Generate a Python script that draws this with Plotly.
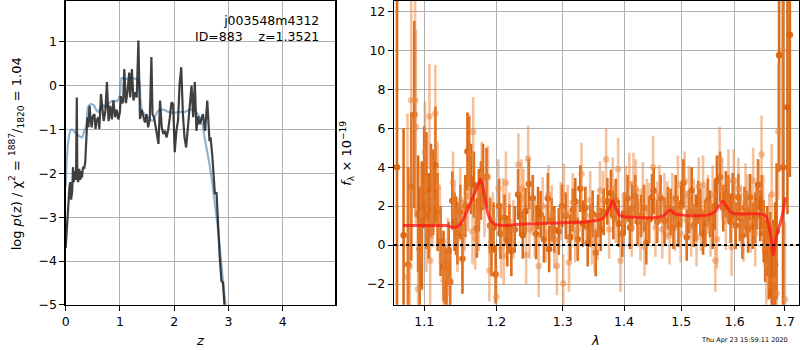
import plotly.graph_objects as go

# ---------------- left panel: redshift probability ----------------
Z_DARK = [0.00, 0.01, 0.03, 0.055, 0.07, 0.086, 0.10, 0.12, 0.135, 0.15,
          0.17, 0.19, 0.205, 0.215, 0.23, 0.25, 0.27, 0.29, 0.30, 0.32,
          0.34, 0.36, 0.38, 0.40, 0.42, 0.44, 0.46, 0.48, 0.50, 0.53,
          0.55, 0.57, 0.60, 0.62, 0.65, 0.68, 0.70, 0.73, 0.76, 0.79,
          0.82, 0.85, 0.88, 0.91, 0.94, 0.97, 1.00, 1.015, 1.04, 1.06,
          1.08, 1.11, 1.14, 1.17, 1.19, 1.22, 1.25, 1.28, 1.31, 1.34,
          1.37, 1.40, 1.42, 1.44, 1.46, 1.49, 1.52, 1.55, 1.58, 1.60,
          1.62, 1.64, 1.67, 1.71, 1.74, 1.77, 1.80, 1.83, 1.86, 1.89,
          1.92, 1.95, 1.98, 2.01, 2.04, 2.07, 2.10, 2.13, 2.16, 2.19,
          2.22, 2.25, 2.28, 2.32, 2.35, 2.38, 2.41, 2.44, 2.47, 2.50,
          2.53, 2.57, 2.61, 2.65, 2.67, 2.70, 2.72, 2.75, 2.78, 2.81,
          2.84, 2.87, 2.90, 2.93]
LOGP_DARK = [-3.7, -3.5, -3.0, -2.7, -2.3, -2.2, -2.6, -2.4, -1.86, -2.2,
             -1.95, -2.15, -0.27, -2.1, -2.2, -1.9, -2.15, -1.95, -2.1, -1.85,
             -1.9, -1.75, -1.2, -0.72, -0.95, -0.46, -0.77, -0.95, -0.7, -0.65,
             -0.99, -0.8, -0.72, -0.99, -0.19, -0.58, -0.81, -0.6, 0.08, -0.81,
             -0.46, -0.77, -0.34, -0.72, -0.55, -0.77, -0.6, -0.24, -0.4, -0.35,
             0.38, -0.40, -0.13, 0.30, -0.27, 0.38, -0.34, -0.15, -0.27, 1.03,
             -0.76, -0.55, -0.65, -0.75, -0.84, -0.65, -0.95, -0.77, 0.65, -0.65,
             -0.7, -0.80, -1.03, -1.33, -0.34, -0.95, -1.1, -1.03, -1.18, -1.0,
             -0.72, -0.38, -0.42, -1.52, -1.03, -0.8, 0.04, 0.42, -0.65, -1.18,
             -1.41, -1.03, -0.6, 0.0, -0.72, 0.08, -1.03, -0.7, -0.88, -0.75,
             -0.65, -1.03, -0.34, -1.26, -1.18, -1.56, -1.94, -2.47, -2.43, -3.23,
             -3.92, -4.45, -4.5, -5.1]

Z_BLUE = [0.00, 0.02, 0.05, 0.086, 0.12, 0.16, 0.20, 0.25, 0.30, 0.34,
          0.38, 0.42, 0.47, 0.52, 0.56, 0.60, 0.65, 0.70, 0.75, 0.80,
          0.85, 0.90, 0.95, 1.00, 1.03, 1.10, 1.20, 1.30, 1.35, 1.38,
          1.42, 1.50, 1.60, 1.70, 1.80, 1.90, 2.00, 2.10, 2.20, 2.30,
          2.40, 2.47, 2.52, 2.56, 2.60, 2.65, 2.70, 2.75, 2.80, 2.84,
          2.88, 2.93, 2.96]
LOGP_BLUE = [-2.3, -1.7, -1.25, -1.03, -1.0, -1.05, -1.1, -1.15, -1.18, -1.05,
             -0.9, -0.46, -0.42, -0.45, -0.55, -0.6, -0.5, -0.45, -0.5, -0.4,
             -0.35, -0.35, -0.35, -0.2, 0.17, 0.15, 0.17, 0.15, 0.1, -0.35,
             -0.6, -0.7, -0.8, -0.58, -0.55, -0.6, -0.62, -0.6, -0.6, -0.54,
             -0.6, -0.72, -0.9, -1.18, -1.45, -1.79, -2.2, -2.7, -3.2, -3.69,
             -4.2, -4.83, -5.1]

Z_TICKS = [0, 1, 2, 3, 4]
LOGP_TICKS = [-5, -4, -3, -2, -1, 0, 1]

# ---------------- right panel: spectrum ----------------
LAM_A = [1.0645, 1.073, 1.079, 1.083, 1.087, 1.092, 1.094, 1.097, 1.100, 1.103,
         1.106, 1.109, 1.112, 1.115, 1.118, 1.122, 1.126, 1.128, 1.130, 1.133,
         1.135, 1.138, 1.141, 1.143, 1.145, 1.149, 1.152, 1.156, 1.159, 1.161,
         1.164, 1.168, 1.172, 1.175, 1.178, 1.181, 1.186, 1.191, 1.193, 1.196,
         1.199, 1.204, 1.206, 1.212, 1.216, 1.219, 1.222, 1.227, 1.232, 1.235,
         1.239, 1.243, 1.248, 1.254, 1.259, 1.262, 1.266, 1.271, 1.277, 1.279,
         1.283, 1.287, 1.294, 1.299, 1.305, 1.312, 1.316, 1.320, 1.324, 1.328,
         1.332, 1.336, 1.340, 1.344, 1.348, 1.353, 1.357, 1.361, 1.366, 1.372,
         1.378, 1.382, 1.386, 1.391, 1.397, 1.401, 1.406, 1.410, 1.414, 1.419,
         1.423, 1.429, 1.434, 1.438, 1.443, 1.448, 1.451, 1.457, 1.463, 1.470,
         1.476, 1.481, 1.486, 1.490, 1.495, 1.500, 1.504, 1.510, 1.514, 1.519,
         1.523, 1.527, 1.531, 1.535, 1.540, 1.544, 1.549, 1.553, 1.558, 1.562,
         1.566, 1.572, 1.578, 1.583, 1.588, 1.592, 1.596, 1.602, 1.607, 1.610,
         1.615, 1.619, 1.623, 1.626, 1.630, 1.635, 1.640, 1.643, 1.646, 1.650,
         1.653, 1.657, 1.660, 1.664, 1.667, 1.670, 1.673, 1.676, 1.680, 1.683,
         1.688, 1.696, 1.705, 1.710]
FLUX_A = [4.0, 0.5, -1.0, 3.0, 6.7, 1.6, -0.2, 1.0, 3.5, 2.8,
          1.5, 2.8, 2.7, 4.1, 1.7, 0.2, -1.07, -1.5, -1.9, -0.3,
          -1.9, 2.28, 1.2, 1.0, 0.6, 1.7, -0.7, 2.0, 4.8, 4.8,
          3.4, 3.1, 0.85, 2.3, 2.8, 3.5, 3.5, 1.0, -0.1, 0.9,
          -1.5, 2.0, 0.58, 1.4, 0.2, 0.9, -0.3, 0.8, 2.6, 1.57,
          0.5, 1.74, 3.14, 2.4, 0.57, 1.9, 1.57, 0.3, 2.4, -0.2,
          1.3, 0.8, 0.7, 2.0, 1.5, 0.4, 1.8, 2.24, 0.3, 2.9,
          1.1, 1.9, 0.1, 1.0, 1.6, -0.4, 1.5, 0.8, 1.7, 2.24,
          2.67, 1.5, 2.3, 1.1, 0.58, 1.6, 2.4, 0.9, 1.9, 2.5,
          1.2, 1.5, 1.9, 0.1, 1.3, 2.45, 2.8, 1.2, 2.4, 1.25,
          1.9, 1.7, 0.9, 2.4, 1.1, 2.0, 3.2, 0.4, 1.7, 2.8,
          1.0, 1.4, 2.2, 1.7, 0.6, 1.1, 2.3, 1.6, 0.9, 2.0,
          3.3, 3.5, 1.9, 2.6, 2.4, 1.2, 2.5, 1.0, 2.45, 1.4,
          0.5, 1.9, 1.6, 0.8, 2.45, 1.0, 1.4, 2.0, 3.1, 1.5,
          2.2, 0.6, -0.3, 0.2, -0.8, -0.5, -1.3, -1.5, -1.0, 0.7,
          9.75, 4.0, 7.08, 10.8]
ERR_A = [20, 5.5, 5.0, 3.8, 4.8, 3.0, 3.2, 3.3, 2.6, 3.0,
         2.2, 2.4, 2.2, 3.0, 2.0, 1.8, 1.8, 1.5, 1.6, 1.5,
         1.8, 1.5, 1.5, 1.5, 1.6, 1.4, 1.8, 1.6, 2.0, 1.8,
         1.8, 1.7, 1.5, 1.6, 1.5, 1.7, 1.5, 1.4, 1.5, 1.3,
         1.5, 1.4, 1.3, 1.2, 1.3, 1.2, 1.3, 1.2, 1.3, 1.1,
         1.2, 1.2, 1.3, 1.2, 1.3, 1.1, 1.2, 1.2, 1.3, 1.2,
         1.1, 1.2, 1.2, 1.1, 1.2, 1.2, 1.1, 1.2, 1.1, 1.2,
         1.2, 1.1, 1.2, 1.1, 1.2, 1.2, 1.1, 1.1, 1.2, 1.2,
         1.2, 1.2, 1.1, 1.2, 1.2, 1.1, 1.2, 1.1, 1.2, 1.1,
         1.2, 1.1, 1.2, 1.1, 1.2, 1.2, 1.2, 1.1, 1.2, 1.2,
         1.1, 1.2, 1.1, 1.2, 1.2, 1.1, 1.2, 1.2, 1.1, 1.2,
         1.1, 1.2, 1.1, 1.2, 1.1, 1.2, 1.1, 1.2, 1.1, 1.2,
         1.3, 1.3, 1.2, 1.2, 1.2, 1.1, 1.2, 1.2, 1.2, 1.2,
         1.2, 1.1, 1.2, 1.2, 1.2, 1.2, 1.3, 1.2, 1.3, 1.3,
         1.4, 1.5, 1.6, 1.8, 2.0, 2.2, 2.4, 2.8, 3.2, 3.5,
         6.0, 9.0, 5.5, 7.3]

LAM_B = [1.078, 1.081, 1.083, 1.088, 1.089, 1.092, 1.096, 1.101, 1.103, 1.107,
         1.108, 1.110, 1.111, 1.115, 1.118, 1.121, 1.126, 1.128, 1.132, 1.135,
         1.139, 1.141, 1.145, 1.149, 1.153, 1.155, 1.160, 1.162, 1.166, 1.167,
         1.170, 1.173, 1.175, 1.179, 1.183, 1.188, 1.190, 1.191, 1.195, 1.200,
         1.203, 1.207, 1.210, 1.211, 1.214, 1.219, 1.225, 1.2325, 1.237, 1.240,
         1.244, 1.247, 1.249, 1.253, 1.257, 1.263, 1.269, 1.274, 1.278, 1.283,
         1.287, 1.291, 1.297, 1.301, 1.302, 1.308, 1.310, 1.316, 1.320, 1.324,
         1.330, 1.337, 1.344, 1.347, 1.351, 1.356, 1.360, 1.365, 1.370, 1.375,
         1.381, 1.386, 1.390, 1.394, 1.398, 1.403, 1.409, 1.413, 1.416, 1.420,
         1.424, 1.428, 1.432, 1.435, 1.439, 1.443, 1.450, 1.454, 1.457, 1.461,
         1.466, 1.470, 1.475, 1.479, 1.484, 1.489, 1.494, 1.499, 1.506, 1.509,
         1.514, 1.518, 1.523, 1.528, 1.532, 1.536, 1.540, 1.545, 1.549, 1.554,
         1.558, 1.563, 1.566, 1.571, 1.576, 1.583, 1.588, 1.594, 1.598, 1.601,
         1.607, 1.612, 1.617, 1.621, 1.625, 1.631, 1.636, 1.640, 1.645, 1.6526,
         1.656, 1.662, 1.668, 1.673, 1.677, 1.683, 1.6864, 1.695, 1.700]
FLUX_B = [-1.65, -1.1, 7.43, 7.43, 6.06, -2.25, 1.6, 4.77, 1.1, 6.6,
          -0.8, 2.6, 2.2, 6.75, 3.0, 1.0, -1.8, -1.5, -0.6, -1.8,
          3.2, 1.5, 0.3, 2.3, 0.7, 1.4, 2.5, 4.7, 0.7, 5.8,
          0.35, 1.2, 1.5, 3.6, 2.0, 3.5, -1.3, 1.0, 1.3, -2.65,
          2.9, -0.2, 1.94, -0.55, 3.2, 1.2, 0.8, 4.13, 2.9, 2.4,
          -0.5, 4.43, 0.8, 2.0, 0.9, -1.07, 2.0, 0.6, 2.6, 1.57,
          0.3, -1.07, 1.74, -1.97, 2.57, 1.6, -0.9, 2.2, 0.6, 0.8,
          3.65, 1.5, 2.3, 0.5, 0.1, 0.75, 2.8, 2.3, 4.39, 0.8,
          2.9, 1.6, 3.9, -0.8, 1.2, 2.57, 3.14, 0.9, 3.14, 2.9,
          1.4, 0.7, 2.75, -0.1, 1.9, 1.68, 4.0, 0.9, 1.77, 2.6,
          0.8, 2.2, 1.77, 0.5, 2.2, 1.2, 3.1, 0.6, 3.3, 1.3,
          2.57, 0.9, 1.9, 0.4, 3.0, 1.2, 3.1, 1.5, 2.1, 0.9,
          2.6, -0.8, 0.3, 4.38, 2.9, 1.25, 3.3, -0.1, 3.3, 2.0,
          2.88, 1.5, 0.74, 2.6, 2.02, 1.2, 3.3, 0.6, 2.6, 4.65,
          1.6, -1.0, 0.2, 2.6, -1.8, -2.5, 5.83, 10.0, -2.8]
ERR_B = [8.4, 4.5, 7.0, 6.0, 5.0, 3.5, 2.6, 2.6, 2.5, 2.7,
         2.5, 2.3, 2.3, 2.5, 2.3, 2.0, 2.0, 1.8, 2.0, 1.6,
         1.6, 1.6, 1.7, 1.7, 1.6, 1.7, 1.8, 2.0, 1.7, 1.8,
         1.6, 1.7, 1.8, 1.7, 1.6, 1.6, 1.6, 1.5, 1.4, 1.6,
         1.5, 1.5, 1.5, 1.5, 1.6, 1.5, 1.5, 1.6, 1.5, 1.5,
         1.5, 1.7, 1.5, 1.5, 1.5, 1.6, 1.5, 1.5, 1.5, 1.5,
         1.5, 1.5, 1.5, 1.5, 1.6, 1.5, 1.5, 1.5, 1.5, 1.5,
         1.6, 1.5, 1.5, 1.5, 1.5, 1.5, 1.5, 1.5, 1.6, 1.5,
         1.6, 1.5, 1.6, 1.6, 1.5, 1.5, 1.6, 1.5, 1.6, 1.5,
         1.5, 1.5, 1.5, 1.5, 1.5, 1.5, 1.6, 1.5, 1.5, 1.5,
         1.5, 1.5, 1.5, 1.5, 1.5, 1.5, 1.5, 1.5, 1.5, 1.5,
         1.5, 1.5, 1.5, 1.5, 1.5, 1.5, 1.5, 1.5, 1.5, 1.5,
         1.5, 1.6, 1.5, 1.7, 1.6, 1.5, 1.6, 1.5, 1.6, 1.5,
         1.6, 1.6, 1.6, 1.6, 1.6, 1.6, 1.7, 1.7, 1.8, 2.0,
         2.0, 2.2, 2.4, 2.6, 2.8, 3.0, 3.5, 6.0, 4.0]

LAM_MODEL = [1.072, 1.100, 1.130, 1.138, 1.145, 1.152, 1.160, 1.167, 1.173, 1.177,
             1.180, 1.184, 1.188, 1.193, 1.200, 1.210, 1.230, 1.260, 1.300, 1.340,
             1.360, 1.370, 1.376, 1.381, 1.386, 1.392, 1.400, 1.420, 1.450, 1.468,
             1.475, 1.481, 1.488, 1.500, 1.520, 1.550, 1.562, 1.570, 1.578, 1.584,
             1.590, 1.600, 1.620, 1.650, 1.658, 1.663, 1.667, 1.671, 1.676, 1.683,
             1.690, 1.696, 1.7007]
FLUX_MODEL = [1.0, 1.0, 1.0, 0.92, 0.95, 1.25, 1.9, 2.5, 3.0, 3.35,
              3.1, 2.3, 1.6, 1.2, 1.05, 1.0, 1.05, 1.1, 1.15, 1.2,
              1.3, 1.55, 1.95, 2.28, 1.9, 1.55, 1.45, 1.42, 1.4, 1.5,
              1.7, 1.8, 1.6, 1.55, 1.5, 1.55, 1.7, 2.0, 2.28, 2.0,
              1.75, 1.6, 1.6, 1.6, 1.55, 1.4, 1.0, 0.5, -0.5, 0.5,
              1.1, 1.7, 2.45]

LAM_TICKS = [1.1, 1.2, 1.3, 1.4, 1.5, 1.6, 1.7]
FLUX_TICKS = [-2, 0, 2, 4, 6, 8, 10, 12]

assert len(Z_DARK) == len(LOGP_DARK)
assert len(Z_BLUE) == len(LOGP_BLUE)
assert len(LAM_A) == len(FLUX_A) == len(ERR_A)
assert len(LAM_B) == len(FLUX_B) == len(ERR_B)
assert len(LAM_MODEL) == len(FLUX_MODEL)

FONT = "DejaVu Sans"
W = 800
H_LAYOUT = 358   # the page renders ~8 px shorter than the layout height
H = 350          # target picture height used for placing things


def px_x(p):
    return p / W


def px_y(p):
    return 1 - p / H


DARK_OR = "rgba(218,100,12,0.95)"
LIGHT_OR = "rgba(234,132,60,0.5)"

fig = go.Figure()

# left panel
fig.add_trace(go.Scatter(x=Z_BLUE, y=LOGP_BLUE, mode="lines", line=dict(color="rgba(70,130,180,0.6)", width=2.2, shape="spline"),
                         xaxis="x", yaxis="y", showlegend=False, hoverinfo="skip"))
fig.add_trace(go.Scatter(x=Z_DARK, y=LOGP_DARK, mode="lines", line=dict(color="rgba(30,30,30,0.85)", width=2.2),
                         xaxis="x", yaxis="y", showlegend=False, hoverinfo="skip"))

# right panel
fig.add_trace(go.Scatter(x=LAM_A, y=FLUX_A, mode="markers",
                         marker=dict(color=DARK_OR, size=6.5),
                         error_y=dict(type="data", array=ERR_A, color=DARK_OR, thickness=2.6, width=0),
                         xaxis="x2", yaxis="y2", showlegend=False, hoverinfo="skip"))
fig.add_trace(go.Scatter(x=LAM_B, y=FLUX_B, mode="markers",
                         marker=dict(color=LIGHT_OR, size=6.5),
                         error_y=dict(type="data", array=ERR_B, color=LIGHT_OR, thickness=2.6, width=0),
                         xaxis="x2", yaxis="y2", showlegend=False, hoverinfo="skip"))
fig.add_trace(go.Scatter(x=LAM_MODEL, y=FLUX_MODEL, mode="lines",
                         line=dict(color="rgba(255,20,20,0.75)", width=3, shape="spline", smoothing=0.6),
                         xaxis="x2", yaxis="y2", showlegend=False, hoverinfo="skip"))

ydom = [px_y(304), px_y(1)]
axis_common = dict(showgrid=True, gridcolor="#b0b0b0", gridwidth=1, showline=True, linecolor="black", linewidth=1.2,
                   mirror=True, ticks="outside", ticklen=5, tickwidth=1, tickcolor="black", zeroline=False,
                   tickfont=dict(family=FONT, size=12.5, color="black"))

fig.update_layout(
    width=W, height=H_LAYOUT, autosize=False,
    margin=dict(l=0, r=0, t=0, b=0, pad=0),
    paper_bgcolor="white", plot_bgcolor="white",
    font=dict(family=FONT, color="black"),
    xaxis=dict(domain=[px_x(62), px_x(333)], range=[0, 4.97], tickvals=Z_TICKS, anchor="y", **axis_common),
    yaxis=dict(domain=ydom, range=[-5, 1.93], tickvals=LOGP_TICKS, anchor="x", **axis_common),
    xaxis2=dict(domain=[px_x(392), px_x(799)], type="log", range=[0.0256, 0.2378], tickvals=LAM_TICKS,
                ticktext=[f"{v:.1f}" for v in LAM_TICKS], anchor="y2", **axis_common),
    yaxis2=dict(domain=ydom, range=[-3.07, 12.53], tickvals=FLUX_TICKS, anchor="x2", **axis_common),
    shapes=[dict(type="line", xref="x2 domain", yref="y2", x0=0, x1=1, y0=0, y1=0,
                 line=dict(color="black", width=2, dash="dot"), layer="above")],
    annotations=[
        dict(text="j003548m4312<br>ID=883\u00a0\u00a0\u00a0\u00a0z=1.3521", xref="paper", yref="paper",
             x=px_x(319), y=px_y(11), xanchor="right", yanchor="top", align="right", showarrow=False,
             font=dict(family=FONT, size=12.5, color="black")),
        dict(text="log <i>p</i>(z) / χ<sup>2</sup> = <sup>1887</sup>/<sub>1820</sub> = 1.04", xref="paper", yref="paper",
             x=px_x(13), y=px_y(153), xanchor="center", yanchor="middle", textangle=-90, showarrow=False,
             font=dict(family=FONT, size=13, color="black")),
        dict(text="<i>z</i>", xref="paper", yref="paper", x=px_x(197), y=px_y(340), xanchor="center", yanchor="middle",
             showarrow=False, font=dict(family=FONT, size=13, color="black")),
        dict(text="<i>f</i><sub>λ</sub> × 10<sup>−19</sup>", xref="paper", yref="paper",
             x=px_x(345), y=px_y(153), xanchor="center", yanchor="middle", textangle=-90, showarrow=False,
             font=dict(family=FONT, size=13, color="black")),
        dict(text="<i>λ</i>", xref="paper", yref="paper", x=px_x(594), y=px_y(340), xanchor="center", yanchor="middle",
             showarrow=False, font=dict(family=FONT, size=13, color="black")),
        dict(text="Thu Apr 23 15:59:11 2020", xref="paper", yref="paper", x=px_x(698), y=px_y(339),
             xanchor="left", yanchor="middle", showarrow=False, font=dict(family=FONT, size=6.5, color="black")),
    ],
)

fig.write_html("out.html", config={"responsive": False, "displayModeBar": False, "staticPlot": True},
               post_script="document.body.style.margin='0';document.body.style.padding='0';document.body.style.overflow='hidden';")
